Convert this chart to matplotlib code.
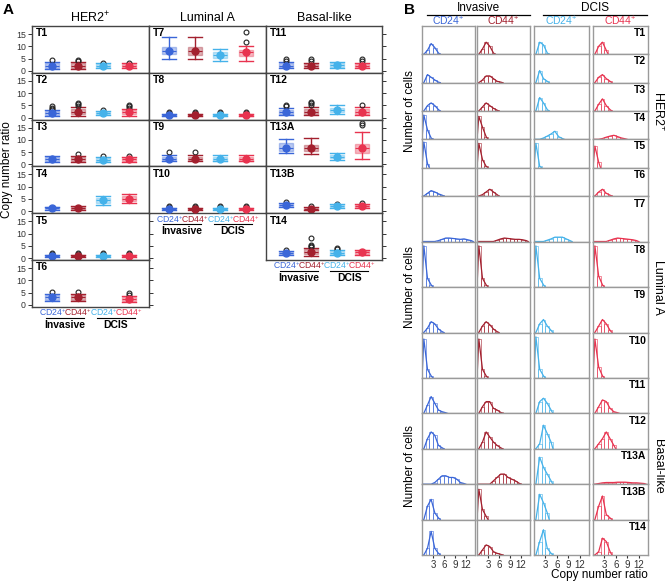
import matplotlib
matplotlib.use("Agg")
import matplotlib.pyplot as plt
import numpy as np

plt.rcParams['font.family'] = ['Liberation Sans', 'DejaVu Sans']
plt.rcParams['mathtext.fontset'] = 'custom'
plt.rcParams['mathtext.rm'] = 'Liberation Sans'
plt.rcParams['mathtext.it'] = 'Liberation Sans:italic'
plt.rcParams['mathtext.bf'] = 'Liberation Sans:bold'

W, H = 665, 583

# ---- panel A data: (whislo, q1, mean, q3, whishi, outliers) per group
groups = ['CD24i', 'CD44i', 'CD24d', 'CD44d']
colors = ['#3a66d8', '#a3202e', '#45b2ea', '#e8334f']
group_labels = ['CD24$^{+}$', 'CD44$^{+}$', 'CD24$^{+}$', 'CD44$^{+}$']

boxA = {
    'T1': [(0.8, 1.3, 2.1, 3.0, 3.8, [4.3]), (0.8, 1.3, 2.0, 3.0, 3.8, [3.9, 4.3]),
           (1.0, 1.5, 2.0, 2.8, 3.0, [3.3]), (1.0, 1.4, 2.0, 2.7, 3.0, [3.3])],
    'T2': [(0.8, 1.2, 1.8, 2.8, 3.2, [3.6, 4.1, 4.6]), (0.8, 1.5, 2.5, 3.5, 4.2, [4.8, 5.4, 6.0]),
           (1.0, 1.3, 1.8, 2.3, 2.6, [3.2]), (0.8, 1.4, 2.2, 3.0, 3.6, [4.0, 4.6, 5.2])],
    'T3': [(1.0, 1.4, 2.2, 3.0, 3.5, []), (1.0, 1.4, 2.2, 3.0, 3.6, [4.3]),
           (1.0, 1.4, 2.0, 2.6, 3.0, [3.3]), (1.0, 1.4, 2.2, 2.8, 3.0, [3.3])],
    'T4': [(0.6, 0.9, 1.2, 1.6, 1.9, []), (0.6, 0.9, 1.3, 1.7, 2.0, []),
           (2.5, 3.5, 4.5, 5.5, 6.2, []), (3.2, 4.0, 5.0, 6.2, 7.2, [])],
    'T5': [(0.6, 0.8, 1.0, 1.2, 1.4, [1.8, 2.2])] * 4,
    'T6': [(1.5, 2.0, 3.0, 4.0, 4.5, [5.3]), (1.5, 2.0, 3.0, 4.0, 4.5, [5.3]),
           None, (1.2, 1.6, 2.5, 3.2, 3.6, [4.2, 5.0])],
    'T7': [(5.0, 6.7, 8.3, 9.9, 14.0, []), (5.0, 6.5, 8.0, 9.8, 14.0, []),
           (4.2, 5.4, 6.3, 7.6, 8.8, []), (4.2, 5.9, 7.6, 8.6, 10.0, [11.9, 15.7])],
    'T8': [(0.6, 0.8, 1.0, 1.3, 1.5, [1.9, 2.3])] * 4,
    'T9': [(1.2, 1.8, 2.4, 3.2, 3.8, [5.0]), (1.2, 1.8, 2.4, 3.2, 3.8, [5.0]),
           (1.2, 1.6, 2.3, 3.0, 3.8, []), (1.2, 1.6, 2.2, 3.0, 3.8, [])],
    'T10': [(0.6, 0.8, 1.0, 1.3, 1.5, [1.9, 2.3])] * 4,
    'T11': [(1.0, 1.5, 2.0, 3.0, 3.6, [4.2, 5.0]), (1.0, 1.4, 2.0, 2.8, 3.4, [4.2, 5.0]),
            (1.2, 1.6, 2.4, 3.0, 3.6, []), (1.0, 1.4, 2.0, 2.8, 3.2, [4.2, 5.0])],
    'T12': [(1.0, 1.6, 2.2, 3.2, 3.8, [4.6, 5.2]), (1.0, 1.6, 2.4, 3.4, 4.2, [5.0, 5.8, 6.5]),
            (1.5, 2.2, 3.0, 4.0, 5.0, []), (1.0, 1.6, 2.4, 3.4, 4.2, [5.2])],
    'T13A': [(4.5, 5.3, 6.8, 8.6, 10.5, []), (4.2, 5.3, 6.6, 7.8, 10.6, []),
             (1.9, 2.6, 3.0, 4.0, 4.6, []), (2.3, 4.6, 6.8, 8.4, 13.3, [16.0, 17.0])],
    'T13B': [(1.6, 2.0, 2.4, 3.0, 3.4, [3.8]), (0.4, 0.7, 1.0, 1.4, 1.7, [2.0]),
             (1.3, 1.6, 2.0, 2.5, 2.8, [3.1]), (1.3, 1.6, 2.0, 2.6, 2.9, [3.3])],
    'T14': [(1.2, 1.6, 2.0, 2.6, 3.0, [3.3]), (1.0, 1.5, 2.5, 3.5, 4.0, [4.5, 5.0, 5.5, 8.0]),
            (1.2, 1.6, 2.0, 2.8, 3.3, [3.8, 4.3]), (1.2, 1.6, 2.3, 3.0, 3.4, [])],
}

colsA = [['T1', 'T2', 'T3', 'T4', 'T5', 'T6'],
         ['T7', 'T8', 'T9', 'T10'],
         ['T11', 'T12', 'T13A', 'T13B', 'T14']]
col_titles = ['HER2$^{+}$', 'Luminal A', 'Basal-like']

# ---- panel B data: relative histogram heights, bins of 1 copy-number unit from 0
histB = {
    'T1': [[0, .15, .4, .25, .05], [0, .2, .45, .3, .05], [0, .45, .35, .05], [0, .3, .45, .15]],
    'T2': [[0, .3, .2, .1, .02], [0, .1, .25, .25, .15, .05, .02], [0, .45, .15, .05], [0, .2, .3, .15, .05]],
    'T3': [[0, .2, .3, .2, .05], [0, .15, .3, .2, .1, .03], [0, .5, .3, .05], [0, .25, .45, .2, .05]],
    'T4': [[.9, .35, .05], [.85, .45, .1], [0, 0, .05, .12, .2, .3, .1, .03],
           [0, 0, .03, .08, .12, .15, .1, .05, .02]],
    'T5': [[.95, .15], [.9, .3, .05], [.9, .05], [.8, .2]],
    'T6': [[0, .1, .2, .15, .08, .03], [0, .05, .15, .25, .15, .05], [], [0, .15, .25, .1, .03]],
    'T7': [[0, 0, 0, 0, .02, .05, .08, .08, .07, .06, .05, .06, .04, .02],
           [0, 0, 0, 0, 0, .03, .06, .08, .07, .06, .05, .05, .04, .02],
           [0, 0, 0, .03, .06, .1, .1, .1, .06, .02],
           [0, 0, 0, 0, .03, .06, .08, .07, .06, .05, .04, .02]],
    'T8': [[.95, .2, .05], [.95, .2, .05], [.95, .2, .05], [.95, .25, .05]],
    'T9': [[0, .1, .25, .2, .08, .02], [0, .15, .25, .18, .08, .02], [0, .2, .3, .15, .05], [0, .15, .3, .2, .05]],
    'T10': [[.9, .2, .05], [.9, .2, .05], [.95, .2, .05], [.9, .25, .05]],
    'T11': [[0, .25, .5, .3, .1, .05, .02], [0, .2, .35, .35, .15, .1, .03],
            [0, .35, .45, .3, .1], [0, .2, .4, .35, .15, .05, .02]],
    'T12': [[0, .3, .5, .4, .1, .03], [0, .2, .5, .35, .2, .1, .03],
            [0, .15, .7, .45, .2], [0, .15, .3, .5, .3, .1]],
    'T13A': [[0, 0, 0, .05, .15, .25, .25, .2, .2, .15, .05, .02],
             [0, 0, 0, 0, .1, .2, .3, .3, .2, .15, .1, .03],
             [0, .8, .5, .3, .1],
             [0, .02, .04, .05, .05, .05, .06, .06, .06, .05, .04, .04, .03, .02]],
    'T13B': [[0, .4, .6, .2, .05], [.9, .3, .1], [0, .75, .5, .2], [0, .4, .7, .15, .05]],
    'T14': [[0, .2, .7, .2, .05], [0, .15, .3, .25, .1, .05, .02], [0, .4, .75, .2, .05], [0, .1, .5, .4, .1]],
}

blocksB = [(['T1', 'T2', 'T3', 'T4', 'T5', 'T6'], 26, 196, 'HER2$^{+}$'),
           (['T7', 'T8', 'T9', 'T10'], 196, 378, 'Luminal A'),
           (['T11', 'T12', 'T13A', 'T13B', 'T14'], 378, 555, 'Basal-like')]
colB = [(422, 475), (477, 530), (534, 589), (593, 648)]


def px_axes(fig, x0, y0, x1, y1):
    return fig.add_axes([x0 / W, 1 - y1 / H, (x1 - x0) / W, (y1 - y0) / H])


def ftext(fig, x, y, s, **kw):
    fig.text(x / W, 1 - y / H, s, **kw)


fig = plt.figure(figsize=(W / 100, H / 100), dpi=100)

# ================= panel A =================
ftext(fig, 3, 10, 'A', fontsize=11, fontweight='bold', va='center')
colx = [(32, 149), (149, 266), (266, 382)]
rowh = 46.8
top = 26
for ci, tlist in enumerate(colsA):
    x0, x1 = colx[ci]
    ftext(fig, (x0 + x1) / 2, 18, col_titles[ci], fontsize=9, ha='center', va='center')
    for ri, t in enumerate(tlist):
        y0 = top + ri * rowh
        ax = px_axes(fig, x0, y0, x1, y0 + rowh)
        for gi, b in enumerate(boxA[t]):
            if b is None:
                continue
            lo, q1, m, q3, hi, fl = b
            ax.bxp([dict(whislo=lo, q1=q1, med=m, q3=q3, whishi=hi, fliers=fl)],
                   positions=[gi + 1], widths=0.55, capwidths=0.55, patch_artist=True,
                   boxprops=dict(facecolor=colors[gi], alpha=0.35, edgecolor=colors[gi], lw=1.0),
                   whiskerprops=dict(color=colors[gi], lw=1.0),
                   capprops=dict(color=colors[gi], lw=1.0),
                   medianprops=dict(color=colors[gi], lw=0.8),
                   flierprops=dict(marker='o', mfc='none', mec='#222222', ms=3.5, mew=0.8))
            ax.plot(gi + 1, m, 'o', color=colors[gi], ms=5, zorder=5)
        ax.set_xlim(0.2, 4.8)
        ax.set_ylim(-0.8, 18.3)
        ax.set_xticks([])
        ax.text(0.03, 0.95, t, transform=ax.transAxes, fontsize=7.5, fontweight='bold',
                ha='left', va='top')
        for s in ax.spines.values():
            s.set_color('#444444')
            s.set_linewidth(1.0)
        ax.set_yticks([0, 5, 10, 15])
        if ci == 0:
            ax.tick_params(axis='y', labelsize=6.3, length=3, width=0.7, colors='#333333',
                           right=(ri >= 4), direction='out', pad=1.5)
        elif ci == 2:
            ax.tick_params(axis='y', left=False, labelleft=False, right=True, length=3,
                           width=0.7, colors='#333333')
        else:
            ax.tick_params(axis='y', left=False, labelleft=False)
        if ri == len(tlist) - 1:
            trans = ax.get_xaxis_transform()
            for gi, lab in enumerate(group_labels):
                ax.text(gi + 1, -0.12, lab, transform=trans, color=colors[gi], fontsize=6.2,
                        ha='center', va='center')
            for a, b, lab in [(0.75, 2.25, 'Invasive'), (2.75, 4.25, 'DCIS')]:
                ax.plot([a, b], [-0.24, -0.24], transform=trans, color='black', lw=0.8,
                        clip_on=False)
                ax.text((a + b) / 2, -0.38, lab, transform=trans, fontsize=7.5,
                        fontweight='bold', ha='center', va='center')

ftext(fig, 7, 170, 'Copy number ratio', fontsize=8.5, rotation=90, ha='center', va='center')

# ================= panel B =================
ftext(fig, 404, 10, 'B', fontsize=11, fontweight='bold', va='center')
for (a, b), lab in [((427, 530), 'Invasive'), ((543, 647), 'DCIS')]:
    ftext(fig, (a + b) / 2, 8, lab, fontsize=8.5, ha='center', va='center')
    fig.add_artist(plt.Line2D([a / W, b / W], [1 - 15 / H, 1 - 15 / H], color='black', lw=0.9))
for ci, (x0, x1) in enumerate(colB):
    ftext(fig, (x0 + x1) / 2, 21, group_labels[ci], fontsize=7.5, color=colors[ci],
          ha='center', va='center')

for tlist, by0, by1, blab in blocksB:
    rh = (by1 - by0) / len(tlist)
    ftext(fig, 410, (by0 + by1) / 2, 'Number of cells', fontsize=8.5, rotation=90,
          ha='center', va='center')
    ftext(fig, 658, (by0 + by1) / 2, blab, fontsize=9, rotation=-90, ha='center', va='center')
    for ri, t in enumerate(tlist):
        for ci, (x0, x1) in enumerate(colB):
            ax = px_axes(fig, x0, by0 + ri * rh, x1, by0 + (ri + 1) * rh)
            h = np.array(histB[t][ci], dtype=float)
            if len(h):
                edges = np.arange(len(h))
                ax.bar(edges, h, width=1, align='edge', fill=False, edgecolor=colors[ci],
                       lw=0.5, alpha=0.8)
                xs = np.r_[0, edges + 0.5, len(h)]
                ys = np.r_[0, h, 0]
                ax.plot(xs, ys, color=colors[ci], lw=0.9)
            ax.set_xlim(0, 14.5)
            ax.set_ylim(0, 1.05)
            ax.set_yticks([])
            for s in ax.spines.values():
                s.set_color('#9a9a9a')
                s.set_linewidth(1.0)
            if t == 'T14':
                ax.set_xticks([3, 6, 9, 12])
                ax.tick_params(axis='x', labelsize=7, length=2, pad=1.5, colors='#333333')
            else:
                ax.set_xticks([])
            if ci == 3:
                ax.text(0.97, 0.93, t, transform=ax.transAxes, fontsize=7.5,
                        fontweight='bold', ha='right', va='top')

ftext(fig, 648, 575, 'Copy number ratio', fontsize=8.5, ha='right', va='center')

fig.savefig('out.png', dpi=100)
